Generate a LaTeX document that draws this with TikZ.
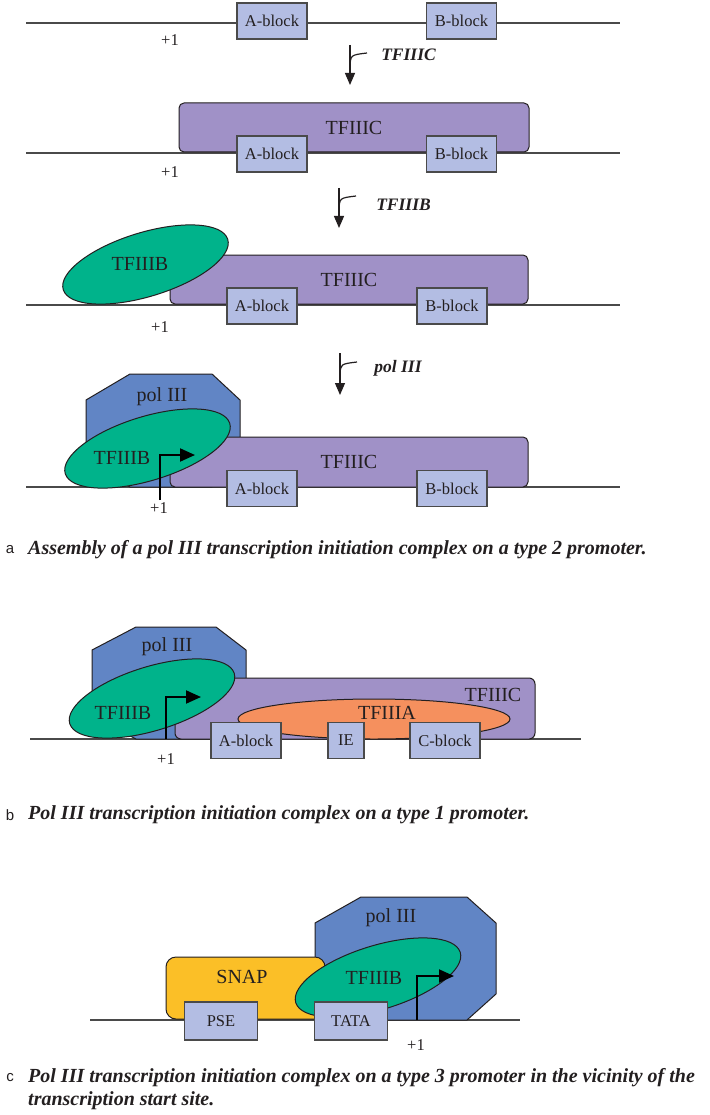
\documentclass[tikz,border=0pt]{standalone}
\usepackage{fontspec}
\setmainfont{Liberation Serif}
\setsansfont{Liberation Sans}
\usetikzlibrary{arrows.meta,shapes.geometric}
\definecolor{polInk}{HTML}{231F20}
\definecolor{polLine}{HTML}{4A4A4A}
\definecolor{polBlock}{HTML}{B3BDE3}
\definecolor{polPurple}{HTML}{A091C7}
\definecolor{polGreen}{HTML}{00B38B}
\definecolor{polBlue}{HTML}{6185C5}
\definecolor{polOrange}{HTML}{F5905E}
\definecolor{polYellow}{HTML}{FBBF27}
\tikzset{
  every picture/.style={text=polInk},
  pol dna/.style={draw=polLine, line width=1.4pt},
  pol block/.style={draw=polLine, line width=1.2pt, fill=polBlock,
    minimum width=70pt, minimum height=36pt, inner sep=0pt,
    font=\fontsize{16.5}{18}\selectfont},
  pol label/.style={font=\fontsize{20}{22}\selectfont, inner sep=0pt},
  pol site/.style={font=\fontsize{16.5}{18}\selectfont, inner sep=0pt},
  pol tfiiic/.style={draw=polInk, line width=1pt, fill=polPurple,
    rounded corners=5pt, inner sep=0pt, font=\fontsize{20}{22}\selectfont},
  pol tfiiib/.style={ellipse, draw=polInk, line width=1pt, fill=polGreen,
    minimum width=172pt, minimum height=64pt, rotate=17, inner sep=0pt},
  pol octagon/.style={draw=polInk, line width=1pt, fill=polBlue},
  pol step/.style={draw=polInk, line width=1.2pt},
  pol step tip/.style={pol step, -{Triangle[length=12pt,width=10pt]}},
  pol step name/.style={font=\fontsize{17.5}{19}\selectfont\bfseries\itshape, inner sep=0pt},
  pol start/.style={draw=black, line width=2pt, -{Triangle[length=15pt,width=13pt]}},
  pol caption/.style={font=\fontsize{20}{23}\selectfont\bfseries\itshape,
    inner sep=0pt, anchor=west, align=left},
  pol panel/.style={font=\sffamily\fontsize{15}{17}\selectfont, inner sep=0pt}
}

\begin{document}
\begin{tikzpicture}[x=1pt,y=-1pt]
  \useasboundingbox[fill=white] (0,0) rectangle (709,1115);

  % a: bare promoter
  \draw[pol dna] (26,23) -- (620,23);
  \node[pol block] (a1) at (272,21) {A-block};
  \node[pol block] (b1) at (461.5,21) {B-block};
  \node[pol site] (p1) at (170,40) {+1};

  \coordinate (s1top) at (350,45);
  \coordinate (s1tip) at (350,85);
  \coordinate (s1join) at (350,67);
  \coordinate (s1end) at (367,53);
  \draw[pol step tip] (s1top) -- (s1tip);
  \draw[pol step] (s1join) .. controls (350.5,55) .. (s1end);
  \node[pol step name] (s1) at (408.5,55) {TFIIIC};

  % a: TFIIIC bound
  \draw[pol dna] (26,153) -- (620,153);
  \node[pol tfiiic, minimum width=350pt, minimum height=49pt] (c2) at (354,127.5) {TFIIIC};
  \node[pol block] (a2) at (272,154) {A-block};
  \node[pol block] (b2) at (461.5,154) {B-block};
  \node[pol site] (p2) at (170,172) {+1};

  \coordinate (s2top) at (339,188);
  \coordinate (s2tip) at (339,228);
  \coordinate (s2join) at (339,210);
  \coordinate (s2end) at (356,196);
  \draw[pol step tip] (s2top) -- (s2tip);
  \draw[pol step] (s2join) .. controls (339.5,198) .. (s2end);
  \node[pol step name] (s2) at (403.5,205) {TFIIIB};

  % a: TFIIIB recruited
  \draw[pol dna] (26,305) -- (620,305);
  \node[pol tfiiic, minimum width=358pt, minimum height=49pt] (c3) at (349,279.5) {TFIIIC};
  \node[pol tfiiib] (e3) at (145.5,264.5) {};
  \node[pol label] (t3) at (140,264) {TFIIIB};
  \node[pol block] (a3) at (262,306) {A-block};
  \node[pol block] (b3) at (452,306) {B-block};
  \node[pol site] (p3) at (160,327) {+1};

  \coordinate (s3top) at (340,353);
  \coordinate (s3tip) at (340,395);
  \coordinate (s3join) at (340,375);
  \coordinate (s3end) at (357,362);
  \draw[pol step tip] (s3top) -- (s3tip);
  \draw[pol step] (s3join) .. controls (340.5,364) .. (s3end);
  \node[pol step name] (s3) at (398,368) {pol III};

  % a: pol III recruited
  \draw[pol dna] (26,487) -- (620,487);
  \draw[pol octagon] (86,400) -- (130,374) -- (212,374) -- (240,400)
    -- (240,461) -- (212,487) -- (130,487) -- (86,461) -- cycle;
  \node[pol label] (o4) at (162,397) {pol III};
  \node[pol tfiiic, minimum width=358pt, minimum height=50pt] (c4) at (349,462) {TFIIIC};
  \node[pol tfiiib] (e4) at (147.5,448.5) {};
  \node[pol label] (t4) at (122,458) {TFIIIB};
  \node[pol block] (a4) at (262,488.5) {A-block};
  \node[pol block] (b4) at (452,488.5) {B-block};
  \coordinate (r4foot) at (160,500);
  \coordinate (r4bend) at (160,455);
  \coordinate (r4tip) at (195,455);
  \draw[pol start] (r4foot) -- (r4bend) -- (r4tip);
  \node[pol site] (p4) at (159,508) {+1};

  \node[pol panel] (la) at (10,550) {a};
  \node[pol caption] (ca) at (28,550) {Assembly of a pol III transcription initiation complex on a type 2 promoter.};

  % b: type 1 promoter
  \draw[pol dna] (30,739) -- (581,739);
  \draw[pol octagon] (92,650) -- (136,627) -- (216,627) -- (246,650)
    -- (246,716) -- (216,739) -- (136,739) -- (92,716) -- cycle;
  \node[pol label] (ob) at (167,647) {pol III};
  \node[pol tfiiic, rounded corners=6pt, minimum width=360pt, minimum height=61pt] (cb) at (355,708.5) {};
  \node[pol label] (tcb) at (493,695) {TFIIIC};
  \node[ellipse, draw=polInk, line width=1pt, fill=polOrange, minimum width=272pt,
    minimum height=40pt, inner sep=0pt] (eab) at (374,719) {};
  \node[pol label] (tab) at (387,713) {TFIIIA};
  \node[pol tfiiib] (eb) at (152,698.5) {};
  \node[pol label] (tb) at (123,713) {TFIIIB};
  \node[pol block] (ab) at (246,740.5) {A-block};
  \node[pol block, minimum width=36pt] (ib) at (346,740.5) {IE};
  \node[pol block] (cbk) at (445,740.5) {C-block};
  \coordinate (bfoot) at (166,739);
  \coordinate (bbend) at (166,697);
  \coordinate (btip) at (201,697);
  \draw[pol start] (bfoot) -- (bbend) -- (btip);
  \node[pol site] (pb) at (166,759) {+1};

  \node[pol panel] (lb) at (10,815) {b};
  \node[pol caption] (cpb) at (28,815) {Pol III transcription initiation complex on a type 1 promoter.};

  % c: type 3 promoter
  \draw[pol dna] (90,1020) -- (520,1020);
  \draw[pol octagon] (315,923) -- (361,897) -- (467,897) -- (496,923)
    -- (496,994) -- (467,1020) -- (361,1020) -- (315,994) -- cycle;
  \node[pol label] (oc) at (391,918) {pol III};
  \node[draw=polInk, line width=1pt, fill=polYellow, rounded corners=10pt,
    minimum width=159pt, minimum height=62pt, inner sep=0pt] (sn) at (245.5,988) {};
  \node[pol label] (tsn) at (242,977) {SNAP};
  \node[pol tfiiib] (ec) at (378,977.5) {};
  \node[pol label] (tc) at (374,978) {TFIIIB};
  \node[pol block, minimum width=72.5pt, minimum height=38pt] (pse) at (221,1021) {PSE};
  \node[pol block, minimum width=72.5pt, minimum height=38pt] (tata) at (351,1021) {TATA};
  \coordinate (cfoot) at (417,1020);
  \coordinate (cbend) at (417,976);
  \coordinate (ctip) at (454,976);
  \draw[pol start] (cfoot) -- (cbend) -- (ctip);
  \node[pol site] (pc) at (416,1045) {+1};

  \node[pol panel] (lc) at (10,1078) {c};
  \node[pol caption] (cpc) at (28,1089) {Pol III transcription initiation complex on a type 3 promoter in the vicinity of the\\transcription start site.};
\end{tikzpicture}
\end{document}
